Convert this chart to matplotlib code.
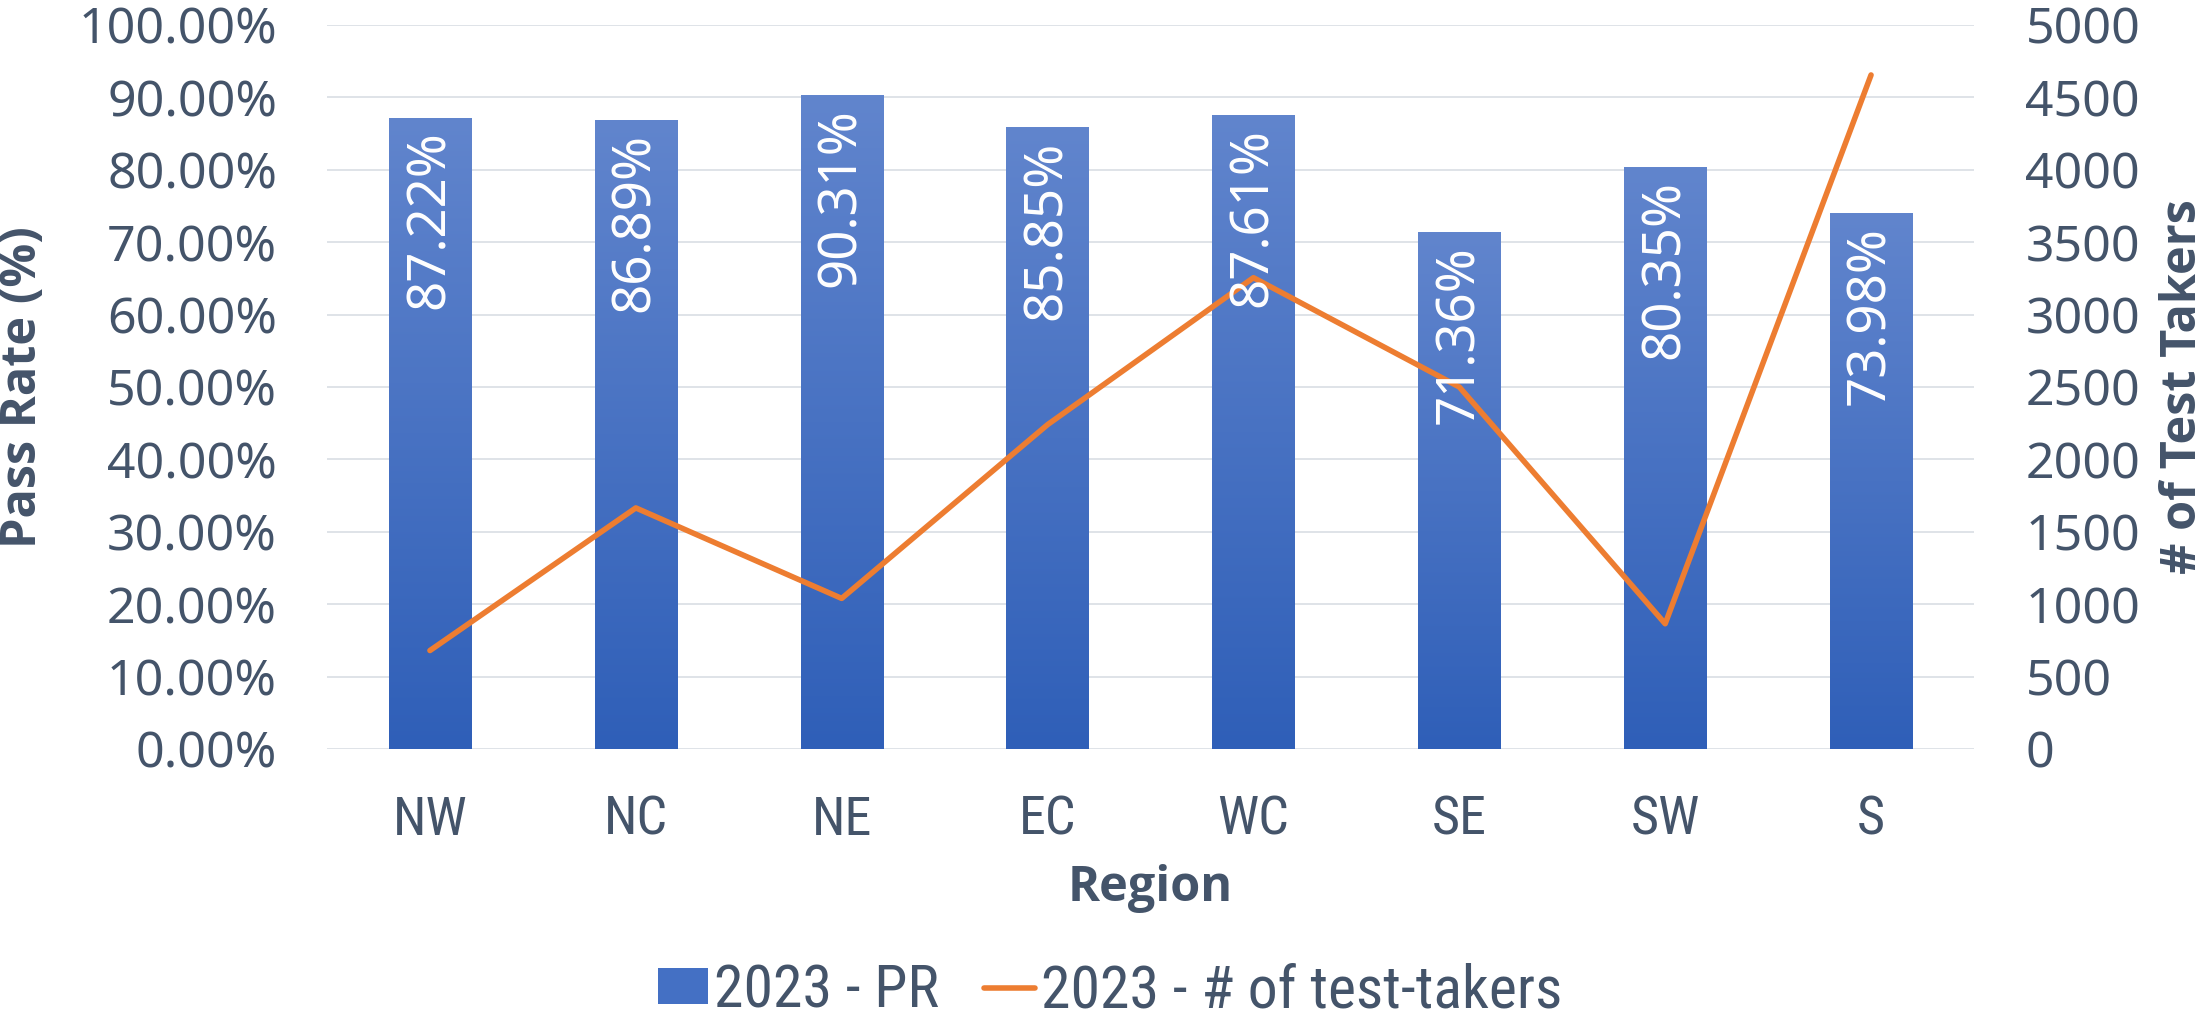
import numpy as np
import matplotlib
matplotlib.use('Agg')
import matplotlib.pyplot as plt
from matplotlib.colors import LinearSegmentedColormap

# chart data
regions = ['NW', 'NC', 'NE', 'EC', 'WC', 'SE', 'SW', 'S']
pass_rate = [87.22, 86.89, 90.31, 85.85, 87.61, 71.36, 80.35, 73.98]
test_takers = [680, 1665, 1040, 2240, 3255, 2500, 865, 4655]
left_ticks = [0, 10, 20, 30, 40, 50, 60, 70, 80, 90, 100]
right_ticks = [0, 500, 1000, 1500, 2000, 2500, 3000, 3500, 4000, 4500, 5000]

text_color = '#44546A'
grid_color = '#DCE0E6'
line_color = '#ED7D31'
main_font = ['Noto Sans', 'DejaVu Sans']
bold_font = ['Open Sans', 'DejaVu Sans']
narrow_font = ['Roboto Condensed', 'Liberation Sans Narrow', 'Roboto', 'DejaVu Sans']

fig = plt.figure(figsize=(22.11, 10.18), dpi=100)
ax = fig.add_axes([327 / 2211, 1 - 749 / 1018, (1974 - 327) / 2211, (749 - 25) / 1018])
ax2 = ax.twinx()

x = np.arange(len(regions))
bar_w = 0.4
bars = ax.bar(x, pass_rate, width=bar_w, color='#4470C4', zorder=2, label='2023 - PR')

# gradient fill for each bar (light at top, darker at bottom)
cmap = LinearSegmentedColormap.from_list('barg', ['#2F5FB8', '#6185CD'])
grad = np.linspace(0, 1, 256).reshape(-1, 1)
for rect in bars:
    x0 = rect.get_x()
    h = rect.get_height()
    im = ax.imshow(grad, extent=[x0, x0 + rect.get_width(), 0, h], origin='lower',
                   aspect='auto', cmap=cmap, zorder=3)
    im.set_clip_path(rect)

ax.set_xlim(-0.5, len(regions) - 0.5)
ax.set_ylim(0, 100)
ax.set_yticks(left_ticks)
ax.set_yticklabels(['{:.2f}%'.format(v) for v in left_ticks])
ax.set_xticks(x)
ax.set_xticklabels(regions)
ax.grid(axis='y', color=grid_color, linewidth=1.3, zorder=0)
ax.set_axisbelow(True)

line, = ax2.plot(x, test_takers, color=line_color, linewidth=4.0,
                 solid_capstyle='round', solid_joinstyle='round', label='2023 - # of test-takers', zorder=3)
ax2.set_ylim(0, 5000)
ax2.set_yticks(right_ticks)
ax2.set_yticklabels([str(v) for v in right_ticks])

for a in (ax, ax2):
    for s in a.spines.values():
        s.set_visible(False)
    a.tick_params(length=0, colors=text_color, labelsize=36)
ax.tick_params(axis='y', pad=36)
ax.tick_params(axis='x', pad=33)
ax2.tick_params(axis='y', pad=37)
for t in ax.get_yticklabels() + ax2.get_yticklabels():
    t.set_family(main_font)
for t in ax.get_xticklabels():
    t.set_family(narrow_font)
    t.set_fontsize(39)

# value labels inside bars, rotated
for xi, v in zip(x, pass_rate):
    ax2.text(xi, v - 1.8, '{:.2f}%'.format(v), transform=ax.transData, rotation=90,
             ha='center', va='top', color='white', fontsize=38, family=main_font, zorder=5)

# axis titles
ax.text(-0.184, 0.5, 'Pass Rate (%)', transform=ax.transAxes, rotation=90, ha='center',
        va='center', fontsize=35, fontweight='bold', color=text_color, family=bold_font)
ax.text(1.1275, 0.5, '# of Test Takers', transform=ax.transAxes, rotation=90, ha='center',
        va='center', fontsize=35, fontweight='bold', color=text_color, family=bold_font)
ax.text(0.5, -0.192, 'Region', transform=ax.transAxes, ha='center', va='center',
        fontsize=35, fontweight='bold', color=text_color, family=bold_font)

leg = fig.legend([bars, line], ['2023 - PR', '2023 - # of test-takers'], loc='center',
                 bbox_to_anchor=(0.502, 1 - 991 / 1018), ncol=2, frameon=False,
                 prop={'family': narrow_font, 'size': 43}, handlelength=0.85,
                 handleheight=0.55, handletextpad=0.1, columnspacing=0.75)
for t in leg.get_texts():
    t.set_color(text_color)

fig.savefig('out.png', dpi=100)
